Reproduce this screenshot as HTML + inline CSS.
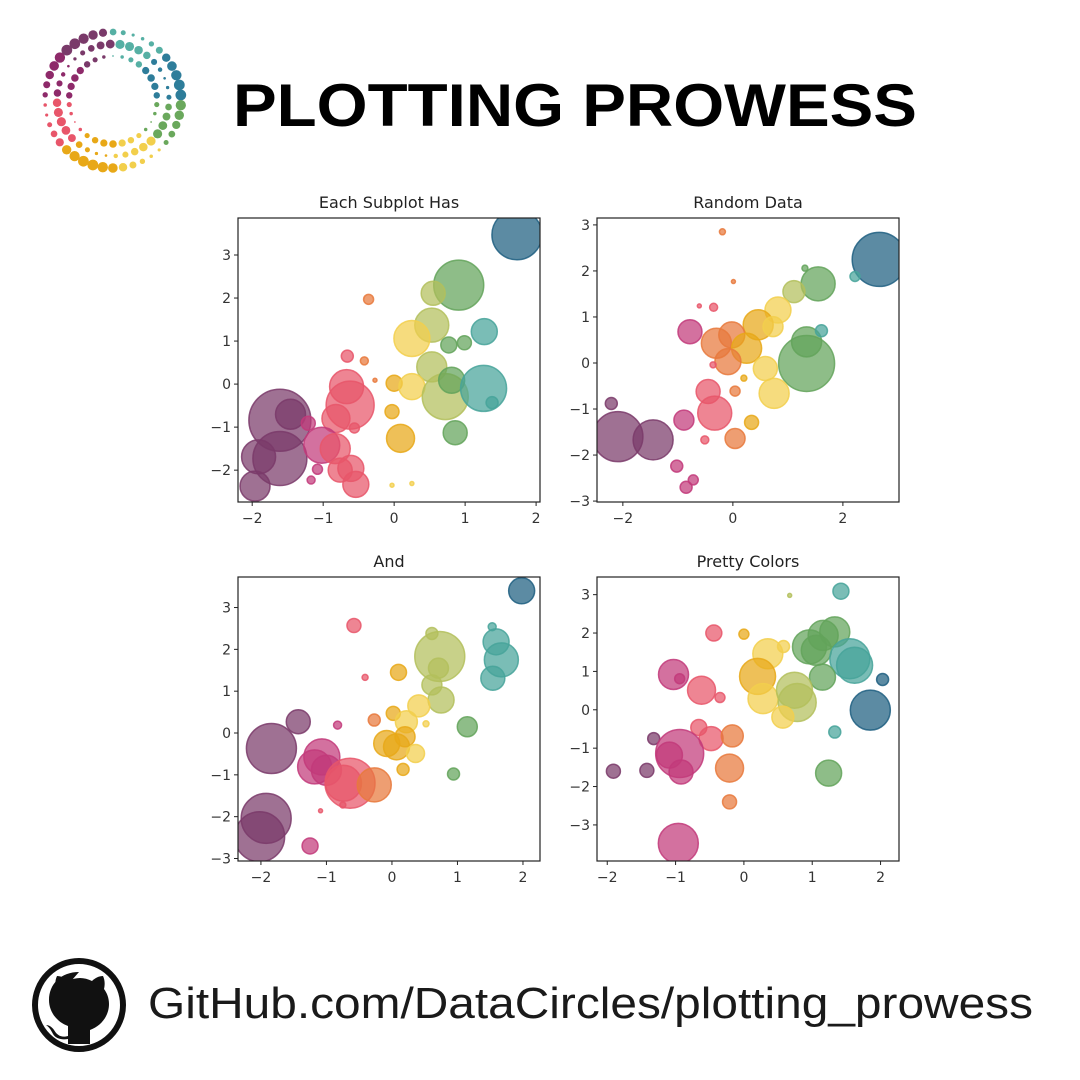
<!DOCTYPE html>
<html><head><meta charset="utf-8">
<style>
html,body{margin:0;padding:0;background:#fff;}
svg{display:block;font-family:"DejaVu Sans","Liberation Sans",sans-serif;}
</style></head>
<body>
<svg id="root" width="1080" height="1080" viewBox="0 0 1080 1080" xmlns="http://www.w3.org/2000/svg">
  <g id="logo"></g>
  <text x="233" y="126" font-family="Liberation Sans, sans-serif" font-weight="900" font-size="60" textLength="684" lengthAdjust="spacingAndGlyphs" fill="#000">PLOTTING PROWESS</text>
  <g id="charts"></g>
  <g>
    <circle cx="79" cy="1005" r="44" fill="#fff" stroke="#111" stroke-width="6"/>
    <path d="M79 972 c-18 0 -30 12 -30 28 c0 12 8 22 19 26 l0 10 c-7 2 -11 -1 -14 -6 c-2 -3 -5 -5 -8 -5 c3 2 5 5 7 9 c3 5 9 6 15 5 l0 5 l22 0 l0 -14 c11 -4 19 -14 19 -26 c0 -6 -2 -11 -5 -15 c1 -4 1 -9 -1 -13 c-4 0 -8 2 -11 5 c-4 -2 -8 -3 -12 -3 c-4 0 -8 1 -12 3 c-3 -3 -7 -5 -11 -5 c-2 4 -2 9 -1 13 c-3 4 -5 9 -5 15 z" fill="#111"/>
  </g>
  <text x="148" y="1018" font-family="Liberation Sans, sans-serif" font-weight="400" font-size="44" textLength="885" lengthAdjust="spacingAndGlyphs" fill="#1a1a1a">GitHub.com/DataCircles/plotting_prowess</text>
</svg>
<script>
const palette = ['#7a3a6a','#c23a7a','#e8566a','#e8793c','#e8a817','#f2cf4c','#b3bf5c','#63a35a','#46a39a','#1d5e80'];

// ---- Subplot 1: "Each Subplot Has"
const p1X = [1.73,0.91,0.55,-0.36,0.53,0.25,0.77,0.99,1.27,-0.66,-0.42,0.53,-0.27,0.0,0.25,0.72,0.81,1.26,1.38,-0.67,-0.62,-0.82,-0.56,-0.03,0.09,-0.03,0.25,0.86,-1.61,-1.46,-1.61,-1.91,-1.96,-1.21,-1.02,-0.83,-1.08,-1.17,-0.76,-0.61,-0.54];
const p1Y = [3.47,2.30,2.11,1.97,1.37,1.06,0.91,0.96,1.22,0.65,0.54,0.40,0.09,0.02,-0.06,-0.29,0.09,-0.10,-0.43,-0.06,-0.49,-0.80,-1.02,-0.64,-1.26,-2.35,-2.31,-1.13,-0.84,-0.70,-1.73,-1.69,-2.37,-0.91,-1.42,-1.50,-1.98,-2.23,-2.0,-1.96,-2.33];
const p1S = [625,625,144,25,289,324,64,49,169,36,16,225,4,64,169,529,169,529,36,289,576,196,25,49,196,4,4,144,961,225,729,289,225,49,324,225,25,16,144,169,169];
const p1C = [9,7,6,3,6,5,7,7,8,2,3,6,3,4,5,6,7,8,8,2,2,2,2,4,4,5,5,7,0,0,0,0,0,1,1,2,1,1,2,2,2];

// ---- Subplot 2: "Random Data"
const p2X = [2.66,2.22,1.55,1.31,1.11,0.82,0.46,0.73,-0.02,-0.30,0.25,-0.09,1.34,1.34,1.61,0.59,0.75,-0.78,-0.61,-0.35,-0.19,0.01,-0.36,0.20,-0.45,0.04,-0.33,0.34,0.04,-0.89,-0.51,-2.09,-1.45,-2.21,-1.02,-0.72,-0.85];
const p2Y = [2.25,1.88,1.72,2.06,1.55,1.15,0.83,0.79,0.61,0.43,0.32,0.03,-0.01,0.46,0.70,-0.12,-0.66,0.68,1.24,1.21,2.85,1.77,-0.04,-0.33,-0.62,-0.61,-1.09,-1.29,-1.64,-1.24,-1.67,-1.60,-1.67,-0.88,-2.24,-2.54,-2.70];
const p2S = [729,25,289,9,121,169,225,100,169,225,225,169,784,225,36,144,225,144,4,16,9,4,9,9,144,25,289,49,100,100,16,625,400,36,36,25,36];
const p2C = [9,8,7,7,6,5,4,5,3,3,4,3,7,7,8,5,5,1,2,2,3,3,2,4,2,3,2,4,3,1,2,0,0,0,1,1,1];

// ---- Subplot 3: "And"
const p3X = [1.98,1.53,1.59,1.67,1.54,0.61,0.73,0.71,0.10,-0.41,-0.58,0.61,0.75,0.41,0.02,-0.27,0.22,0.52,1.15,-0.83,-1.43,-0.08,0.07,0.20,0.36,0.17,0.94,-1.84,-1.07,-1.18,-1.0,-0.64,-0.74,-0.27,-0.75,-1.09,-1.92,-2.02,-1.25];
const p3Y = [3.40,2.54,2.18,1.75,1.31,2.38,1.83,1.55,1.45,1.33,2.57,1.15,0.79,0.65,0.47,0.31,0.27,0.22,0.15,0.19,0.27,-0.25,-0.33,-0.09,-0.49,-0.87,-0.98,-0.37,-0.57,-0.81,-0.89,-1.20,-1.20,-1.24,-1.72,-1.86,-2.04,-2.48,-2.70];
const p3S = [169,16,169,289,144,36,625,100,64,9,49,100,169,121,49,36,121,9,100,16,144,169,169,100,81,36,36,625,324,289,225,625,324,289,9,4,625,625,64];
const p3C = [9,8,8,8,8,6,6,6,4,2,2,6,6,5,4,3,5,5,7,1,0,4,4,4,5,4,7,0,1,1,1,2,2,3,2,2,0,0,1];

// ---- Subplot 4: "Pretty Colors"
const p4X = [1.42,0.67,1.33,1.16,0.96,1.06,1.55,1.62,1.15,2.03,1.85,1.33,1.24,0.35,0.58,0.20,0.28,0.74,0.78,0.57,0.0,-0.44,-1.03,-0.94,-0.62,-0.35,-0.66,-0.48,-0.17,-1.32,-0.94,-1.09,-0.92,-1.42,-1.91,-0.21,-0.21,-0.96];
const p4Y = [3.09,2.98,2.03,1.94,1.64,1.55,1.33,1.16,0.85,0.79,-0.01,-0.58,-1.65,1.46,1.65,0.87,0.29,0.51,0.19,-0.19,1.97,2.0,0.92,0.81,0.51,0.32,-0.46,-0.75,-0.68,-0.75,-1.14,-1.18,-1.62,-1.58,-1.60,-1.52,-2.40,-3.48];
const p4S = [64,4,225,225,289,225,400,324,169,36,400,36,169,225,36,324,225,324,361,121,25,64,225,25,196,25,64,144,121,36,576,169,144,49,49,196,49,400];
const p4C = [8,6,7,7,7,7,8,8,7,9,9,8,7,5,5,4,5,6,6,5,4,2,1,1,2,2,2,2,3,0,1,1,1,0,0,3,3,1];

const p1Ticks = {x:[-2,-1,0,1,2], y:[-2,-1,0,1,2,3]};
const p2Ticks = {x:[-2,0,2], y:[-3,-2,-1,0,1,2,3]};
const p3Ticks = {x:[-2,-1,0,1,2], y:[-3,-2,-1,0,1,2,3]};
const p4Ticks = {x:[-2,-1,0,1,2], y:[-3,-2,-1,0,1,2,3]};

const NS = 'http://www.w3.org/2000/svg';
function mk(tag, attrs, parent){
  const e = document.createElementNS(NS, tag);
  for (const k in attrs) e.setAttribute(k, attrs[k]);
  if (parent) parent.appendChild(e);
  return e;
}
const charts = document.getElementById('charts');

function drawPlot(id, title, box, dom, xs, ys, ss, cs, ticks){
  const g = mk('g', {}, charts);
  
  
  const sx = v => box.x + (v - dom.x0) / (dom.x1 - dom.x0) * box.w;
  const sy = v => box.y + (dom.y1 - v) / (dom.y1 - dom.y0) * box.h;
  const clip = mk('clipPath', {id: id + '-clip'}, g);
  mk('rect', {x: box.x, y: box.y, width: box.w, height: box.h}, clip);
  const marks = mk('g', {'clip-path': 'url(#' + id + '-clip)'}, g);
  
  
  for (let i = 0; i < xs.length; i++){
    const col = palette[cs[i]];
    const c = mk('circle', {cx: sx(xs[i]), cy: sy(ys[i]), r: Math.sqrt(ss[i]), fill: col, 'fill-opacity': 0.72, stroke: col, 'stroke-opacity': 0.85, 'stroke-width': 1.5}, marks);
    
    
  }
  const frame = mk('rect', {x: box.x, y: box.y, width: box.w, height: box.h, fill: 'none', stroke: '#222', 'stroke-width': 1.2}, g);
  
  
  const t = mk('text', {x: box.x + box.w/2, y: box.y - 10, 'text-anchor': 'middle', 'font-size': 16, fill: '#222'}, g);
  t.textContent = title;
  
  
  ticks.x.forEach(v => {
    const X = sx(v);
    mk('line', {x1: X, x2: X, y1: box.y + box.h, y2: box.y + box.h + 4, stroke: '#222'}, g);
    const l = mk('text', {x: X, y: box.y + box.h + 21, 'text-anchor': 'middle', 'font-size': 14, fill: '#333'}, g);
    l.textContent = v < 0 ? '\u2212' + Math.abs(v) : String(v);
    
    
  });
  ticks.y.forEach(v => {
    const Y = sy(v);
    mk('line', {x1: box.x - 4, x2: box.x, y1: Y, y2: Y, stroke: '#222'}, g);
    const l = mk('text', {x: box.x - 7, y: Y + 5, 'text-anchor': 'end', 'font-size': 14, fill: '#333'}, g);
    l.textContent = v < 0 ? '\u2212' + Math.abs(v) : String(v);
    
    
  });
}

drawPlot('subplot-each', 'Each Subplot Has', {x:238,y:218,w:302,h:284}, {x0:-2.2,x1:2.055,y0:-2.74,y1:3.86}, p1X, p1Y, p1S, p1C, p1Ticks);
drawPlot('subplot-random', 'Random Data', {x:597,y:218,w:302,h:284}, {x0:-2.47,x1:3.02,y0:-3.02,y1:3.15}, p2X, p2Y, p2S, p2C, p2Ticks);
drawPlot('subplot-and', 'And', {x:238,y:577,w:302,h:284}, {x0:-2.35,x1:2.26,y0:-3.06,y1:3.73}, p3X, p3Y, p3S, p3C, p3Ticks);
drawPlot('subplot-pretty', 'Pretty Colors', {x:597,y:577,w:302,h:284}, {x0:-2.15,x1:2.27,y0:-3.94,y1:3.46}, p4X, p4Y, p4S, p4C, p4Ticks);

// ---- logo: ring of dots, colour by angle (top teal, right green/blue, bottom gold, left purple/pink)
const logo = document.getElementById('logo');
const logoCols = ['#56b0a4','#2e7d9a','#6aa85c','#f2cf4c','#e8a817','#e8566a','#8e2a6a','#7a3a6a','#56b0a4'];
const cx = 113, cy = 100;
for (let ring = 0; ring < 3; ring++){
  const R = 44 + ring * 12;
  const n = 30 + ring * 6;
  for (let i = 0; i < n; i++){
    const a = i / n * Math.PI * 2 - Math.PI / 2 + ring * 0.3;
    const phase = ((a + Math.PI / 2) / (Math.PI * 2) + 1) % 1;
    const col = logoCols[Math.floor(phase * (logoCols.length - 1))];
    const rr = (1.2 + 4.2 * Math.abs(Math.sin(phase * Math.PI * 3 + ring * 1.3))) * (0.7 + ring * 0.15);
    const d = mk('circle', {cx: cx + R * Math.cos(a), cy: cy + R * Math.sin(a), r: rr, fill: col}, logo);
    
    
  }
}
</script>
</body></html>
